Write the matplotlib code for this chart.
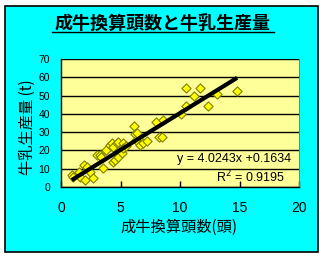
import matplotlib
matplotlib.use("Agg")
import matplotlib.pyplot as plt
from matplotlib.patches import Rectangle
from matplotlib.lines import Line2D

plt.rcParams['font.family'] = ['Noto Sans CJK JP', 'DejaVu Sans']

# 成牛換算頭数 (頭) と 牛乳生産量 (t)
heads = [0.9, 1.0, 1.5, 1.6, 1.9, 2.0, 2.2, 2.4, 2.7, 3.0, 3.3, 3.4, 3.55, 3.8,
         4.1, 4.3, 4.4, 4.4, 4.5, 4.7, 4.7, 4.8, 4.8, 5.1, 5.2, 5.2, 5.5, 6.1,
         6.2, 6.3, 6.4, 6.6, 6.9, 7.2, 8.0, 8.2, 8.5, 8.6, 10.1, 10.5, 10.5,
         11.2, 11.65, 12.35, 13.1, 14.8]
milk = [6.6, 5.6, 8.4, 5.6, 12.0, 3.8, 11.1, 8.4, 4.7, 17.5, 17.5, 16.6, 10.2, 20.2,
        23.0, 23.9, 22.0, 13.8, 14.8, 23.9, 18.4, 24.8, 16.6, 18.4, 23.9, 21.2, 22.5, 33.5,
        29.0, 25.7, 29.4, 23.0, 23.9, 25.0, 35.7, 27.2, 27.2, 36.6, 39.7, 44.3, 54.3,
        49.9, 54.3, 44.1, 50.8, 52.7]
slope = 4.0243
intercept = 0.1634
r2 = 0.9195
xticks = [0, 5, 10, 15, 20]
yticks = [0, 10, 20, 30, 40, 50, 60, 70]

W, H = 328, 259
fig = plt.figure(figsize=(W / 100, H / 100), dpi=100)
fig.patch.set_facecolor('white')

# 外枠（シアン）
fig.patches.append(Rectangle((5 / W, 7 / H), 313 / W, 246 / H, transform=fig.transFigure,
                             facecolor='#00FFFF', edgecolor='black', linewidth=1.2, zorder=-5))

ax = fig.add_axes([61 / W, 72 / H, 238 / W, 128 / H])
ax.set_zorder(2)
ax.set_facecolor('#FFFF99')
ax.set_xlim(0, 20)
ax.set_ylim(0, 70)
ax.set_xticks(xticks)
ax.set_yticks(yticks)
ax.yaxis.grid(True, color='black', linewidth=1.0)
ax.set_axisbelow(True)
for s in ['left', 'bottom']:
    ax.spines[s].set_color('black')
    ax.spines[s].set_linewidth(1.0)
ax.spines['top'].set_visible(False)
ax.spines['right'].set_color('#808080')
ax.tick_params(axis='x', direction='in', length=4, width=1, pad=10, labelsize=10)
ax.tick_params(axis='y', length=0, pad=8, labelsize=7.5)
for lab in ax.get_xticklabels() + ax.get_yticklabels():
    lab.set_family(['Liberation Sans', 'DejaVu Sans'])

ax.scatter(heads, milk, marker='D', s=22, facecolor='#FFFF00', edgecolor='#808000',
           linewidth=0.8, zorder=3, clip_on=False)

x0, x1 = min(heads), max(heads)
ax.plot([x0, x1], [slope * x0 + intercept, slope * x1 + intercept],
        color='black', linewidth=3, zorder=4, solid_capstyle='butt')

ax.text(0.965, 0.22, f'y = {slope:.4f}x +{intercept:.4f}', transform=ax.transAxes,
        ha='right', va='center', fontsize=9, family=['Liberation Sans', 'DejaVu Sans'])
ax.text(0.795, 0.08, f'R$^2$ = {r2:.4f}', transform=ax.transAxes,
        ha='center', va='center', fontsize=9, family=['Liberation Sans', 'DejaVu Sans'])

# 軸ラベル
fig.text(179 / W, 1 - 227 / H, '成牛換算頭数(頭)', ha='center', va='center', fontsize=11)
fig.text(27 / W, 1 - 127 / H, '牛乳生産量 (t)', ha='center', va='center',
         rotation=90, fontsize=11)

# タイトル（下線付き）
fig.text(163 / W, 1 - 23 / H, '成牛換算頭数と牛乳生産量', ha='center', va='center',
         fontsize=13, fontweight='bold')
fig.lines.append(Line2D([52 / W, 274 / W], [1 - 32 / H, 1 - 32 / H],
                        transform=fig.transFigure, color='black', linewidth=1))

fig.savefig('out.png', dpi=100)
